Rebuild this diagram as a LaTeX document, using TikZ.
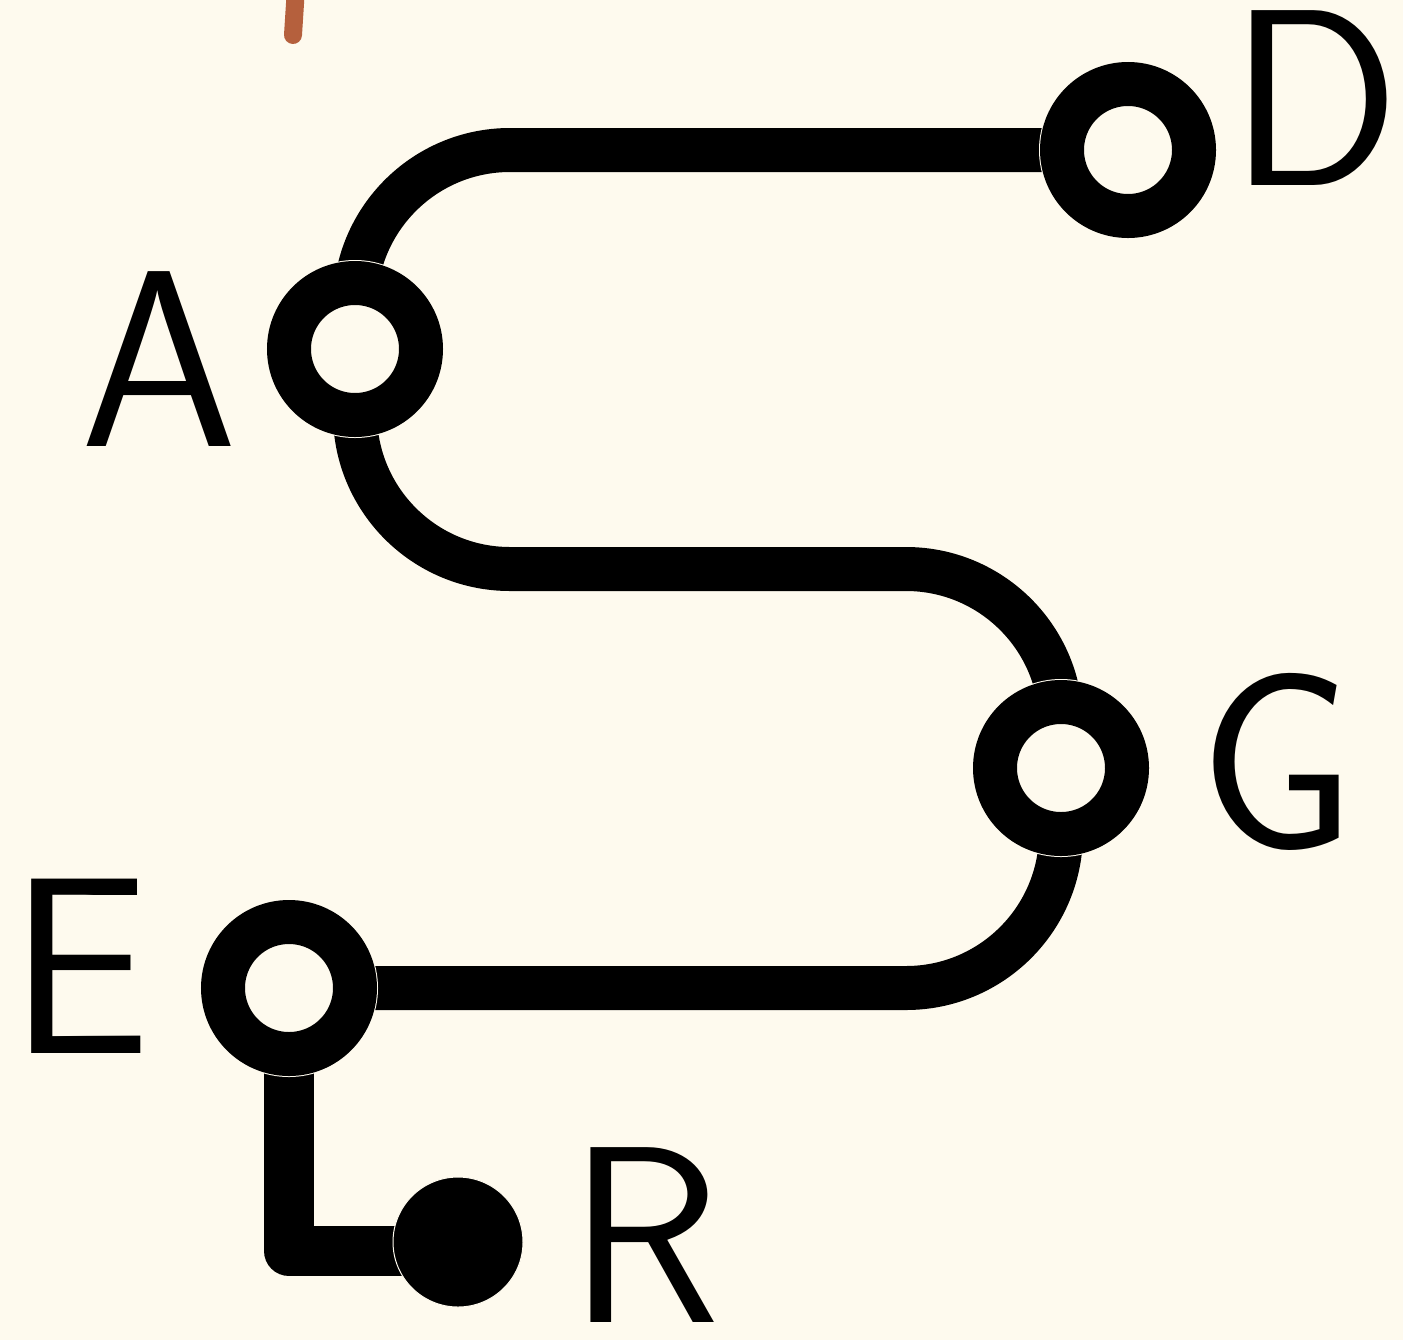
\documentclass[tikz,border=0pt]{standalone}
\usetikzlibrary{backgrounds}
\definecolor{bg}{HTML}{FEFAEE}
\definecolor{rust}{HTML}{B5603D}
\pgfdeclarelayer{bgfill}
\pgfdeclarelayer{wires}
\pgfsetlayers{bgfill,wires,main}
\begin{document}
\begin{tikzpicture}[x=0.5pt,y=-0.5pt,
  ring/.style={circle, inner sep=0pt, minimum size=66pt, draw=bg, line width=0.5pt, double=black, double distance=22pt, fill=bg},
  dot/.style={circle, inner sep=0pt, minimum size=65pt, fill=black, draw=bg, line width=0.5pt},
  wire/.style={line width=22pt, rounded corners=77.5pt},
  lbl/.style={font=\sffamily\fontsize{126}{126}\selectfont, anchor=base, inner sep=0pt}]
\begin{pgfonlayer}{bgfill}
\fill[bg] (0,0) rectangle (1403,1340);
\end{pgfonlayer}
\useasboundingbox (0,0) rectangle (1403,1340);
\node[ring] (A) at (355,349) {};
\node[ring] (D) at (1128,150) {};
\node[ring] (G) at (1061,768) {};
\node[ring] (E) at (289,988) {};
\node[dot] (R) at (458,1242) {};
\node[lbl] (lA) at (159,446) {A};
\node[lbl] (lD) at (1315,185) {D};
\node[lbl] (lG) at (1277,848) {G};
\node[lbl] (lE) at (80,1053) {E};
\node[lbl] (lR) at (645,1322) {R};
\begin{pgfonlayer}{wires}
\draw[wire] (D.center) -| (A.center);
\coordinate (m1) at (700,569);
\draw[wire] (A.center) |- (m1) -| (G.center);
\draw[wire] (G.center) |- (E.center);
\coordinate (rj) at (458,1251);
\draw[line width=25pt, line join=round] (E.center) |- (rj);
\draw[rust, line width=9pt, line cap=round] (296.5,-20) -- (293,35);
\end{pgfonlayer}
\end{tikzpicture}
\end{document}
